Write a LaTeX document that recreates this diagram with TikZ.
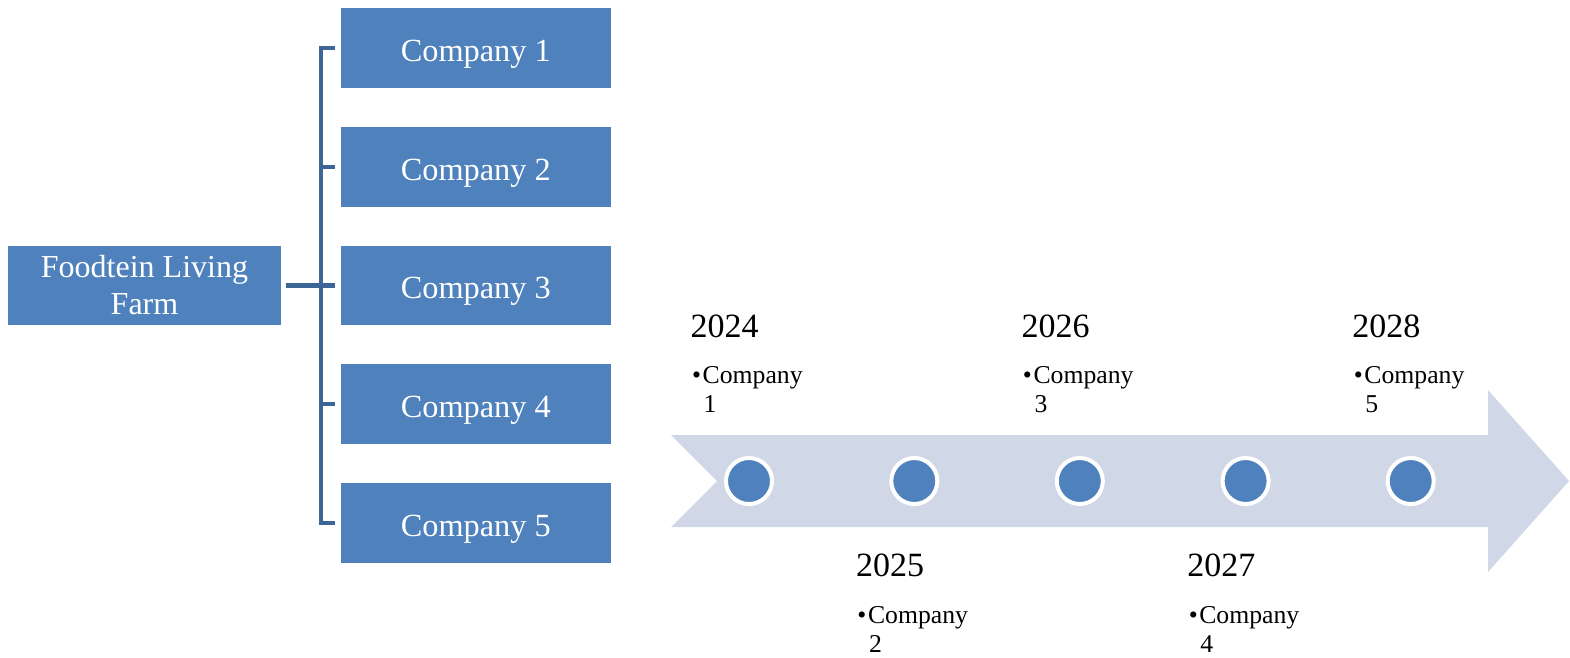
\documentclass[tikz,border=0pt]{standalone}
\usepackage{fontspec}
\setmainfont{Liberation Serif}
\definecolor{boxblue}{HTML}{4F81BD}
\definecolor{linkblue}{HTML}{3C6696}
\definecolor{bandblue}{HTML}{D0D8E8}
\begin{document}
\begin{tikzpicture}[x=0.01cm,y=-0.01cm,
  blockbase/.style={fill=boxblue, draw=none, inner sep=0pt, text=white,
    minimum height=0.79cm},
  unitbox/.style={blockbase, minimum width=2.703cm,
    font=\fontsize{9.19pt}{10.5pt}\selectfont, text height=7.4pt, text depth=0pt},
  rootbox/.style={blockbase, minimum width=2.72cm, align=center,
    font=\fontsize{9.1pt}{10.53pt}\selectfont},
  link/.style={draw=linkblue, line width=0.047cm, line join=miter},
  dot/.style={circle, fill=boxblue, draw=white, line width=0.04cm,
    minimum size=0.46cm, inner sep=0pt},
  yearlbl/.style={anchor=base west, inner sep=0pt,
    font=\fontsize{9.67pt}{11pt}\selectfont},
  itemlbl/.style={anchor=base west, inner sep=0pt,
    font=\fontsize{7.31pt}{8.3pt}\selectfont},
]
\useasboundingbox (0,0) rectangle (1570,657);

% organisation chart
\node[rootbox] (main) at (144.5,285.5) {Foodtein Living\\Farm};
\foreach \i/\y in {1/48,2/167,3/285.5,4/404,5/523}
  \node[unitbox] (c\i) at (475.8,\y) {Company \i};

\coordinate (spine) at (321,285.5);
\draw[link, shorten <=0.05cm, shorten >=0.05cm] (main.east) -- (c3.west);
\draw[link] ([xshift=-0.05cm]c1.west) -- (c1.west -| spine)
  -- (c5.west -| spine) -- ([xshift=-0.05cm]c5.west);
\foreach \i in {2,4}
  \draw[link] ([xshift=-0.05cm]c\i.west) -- (c\i.west -| spine);

% timeline band
\fill[bandblue] (671,435) -- (1488,435) -- (1488,390) -- (1569,481)
  -- (1488,572) -- (1488,527) -- (671,527) -- (717,481) -- cycle;

\foreach \i/\x/\yr/\d in {1/749/2024/0, 2/914.3/2025/239.5,
    3/1079.8/2026/0, 4/1245.6/2027/239.5, 5/1410.7/2028/0} {
  \node[dot] (t\i) at (\x,481) {};
  \node[yearlbl] (y\i) at (\x-59,337+\d) {\yr};
  \node[itemlbl] (i\i) at (\x-47,383.5+\d) {\llap{\textbullet\hspace{0.06em}}Company};
  \node[itemlbl] (n\i) at (\x-46,412.5+\d) {\i};
}
\end{tikzpicture}
\end{document}
